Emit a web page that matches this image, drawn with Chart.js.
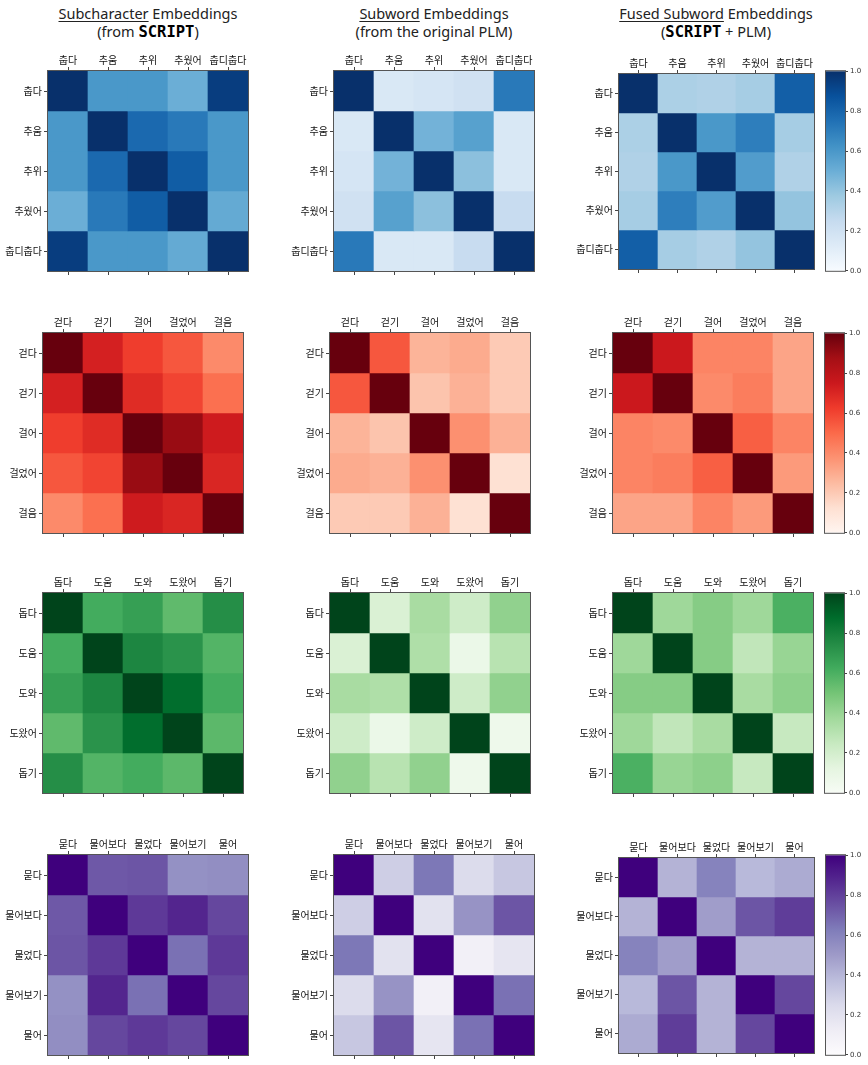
<!DOCTYPE html>
<html lang="ko">
<head>
<meta charset="UTF-8">
<title>Subword embedding similarity</title>
<script src="https://cdn.jsdelivr.net/npm/chart.js"></script>
<style>
    body { margin: 0; background: #fff; }
    #page { position: relative; width: 868px; height: 1065px; overflow: hidden; }
    .panel { position: absolute; }
    .title {
        position: absolute; width: 300px; text-align: center;
        font-family: "Noto Sans", "DejaVu Sans", sans-serif; font-size: 14.5px;
        line-height: 18px; color: #222;
    }
    .title u { text-decoration-thickness: 1px; text-underline-offset: 2px; }
    .title b { font-family: "DejaVu Sans Mono", monospace; font-weight: bold; color: #000; font-size: 15.5px; }
</style>
</head>
<body>
<div id="page">
    <div class="title" style="left:-2px; top:4px;"><u>Subcharacter</u> Embeddings<br>(from <b>SCRIPT</b>)</div>
    <div class="title" style="left:284px; top:4px;"><u>Subword</u> Embeddings<br>(from the original PLM)</div>
    <div class="title" style="left:566px; top:4px;"><u>Fused Subword</u> Embeddings<br>(<b>SCRIPT</b> + PLM)</div>
</div>

<script>
    // word lists (rows and columns of each heatmap)
    const coldWords = ['춥다', '추움', '추위', '추웠어', '춥디춥다'];
    const walkWords = ['걷다', '걷기', '걸어', '걸었어', '걸음'];
    const helpWords = ['돕다', '도움', '도와', '도왔어', '돕기'];
    const askWords = ['묻다', '물어보다', '물었다', '물어보기', '물어'];

    // similarity matrices
    const coldScript = [
        [1.00, 0.60, 0.60, 0.50, 0.95],
        [0.60, 1.00, 0.78, 0.72, 0.60],
        [0.60, 0.78, 1.00, 0.83, 0.60],
        [0.50, 0.72, 0.83, 1.00, 0.52],
        [0.95, 0.60, 0.60, 0.52, 1.00]
    ];
    const coldPlm = [
        [1.00, 0.15, 0.17, 0.20, 0.72],
        [0.15, 1.00, 0.48, 0.56, 0.15],
        [0.17, 0.48, 1.00, 0.42, 0.15],
        [0.20, 0.56, 0.42, 1.00, 0.24],
        [0.72, 0.15, 0.15, 0.24, 1.00]
    ];
    const coldFused = [
        [1.00, 0.33, 0.32, 0.35, 0.82],
        [0.33, 1.00, 0.60, 0.70, 0.35],
        [0.32, 0.60, 1.00, 0.58, 0.32],
        [0.35, 0.70, 0.58, 1.00, 0.40],
        [0.82, 0.35, 0.32, 0.40, 1.00]
    ];
    const walkScript = [
        [1.00, 0.72, 0.62, 0.55, 0.40],
        [0.72, 1.00, 0.68, 0.60, 0.48],
        [0.62, 0.68, 1.00, 0.90, 0.74],
        [0.55, 0.60, 0.90, 1.00, 0.70],
        [0.40, 0.48, 0.74, 0.70, 1.00]
    ];
    const walkPlm = [
        [1.00, 0.55, 0.27, 0.30, 0.20],
        [0.55, 1.00, 0.22, 0.28, 0.20],
        [0.27, 0.22, 1.00, 0.38, 0.28],
        [0.30, 0.28, 0.38, 1.00, 0.12],
        [0.20, 0.20, 0.28, 0.12, 1.00]
    ];
    const walkFused = [
        [1.00, 0.75, 0.42, 0.42, 0.32],
        [0.75, 1.00, 0.40, 0.44, 0.32],
        [0.42, 0.40, 1.00, 0.53, 0.42],
        [0.42, 0.44, 0.53, 1.00, 0.35],
        [0.32, 0.32, 0.42, 0.35, 1.00]
    ];
    const helpScript = [
        [1.00, 0.62, 0.67, 0.55, 0.74],
        [0.62, 1.00, 0.77, 0.72, 0.58],
        [0.67, 0.77, 1.00, 0.87, 0.62],
        [0.55, 0.72, 0.87, 1.00, 0.56],
        [0.74, 0.58, 0.62, 0.56, 1.00]
    ];
    const helpPlm = [
        [1.00, 0.17, 0.35, 0.22, 0.42],
        [0.17, 1.00, 0.33, 0.08, 0.30],
        [0.35, 0.33, 1.00, 0.22, 0.42],
        [0.22, 0.08, 0.22, 1.00, 0.06],
        [0.42, 0.30, 0.42, 0.06, 1.00]
    ];
    const helpFused = [
        [1.00, 0.38, 0.45, 0.38, 0.60],
        [0.38, 1.00, 0.45, 0.27, 0.40],
        [0.45, 0.45, 1.00, 0.35, 0.43],
        [0.38, 0.27, 0.35, 1.00, 0.25],
        [0.60, 0.40, 0.43, 0.25, 1.00]
    ];
    const askScript = [
        [1.00, 0.73, 0.74, 0.54, 0.55],
        [0.73, 1.00, 0.82, 0.88, 0.78],
        [0.74, 0.82, 1.00, 0.66, 0.82],
        [0.54, 0.88, 0.66, 1.00, 0.78],
        [0.55, 0.78, 0.82, 0.78, 1.00]
    ];
    const askPlm = [
        [1.00, 0.30, 0.64, 0.24, 0.33],
        [0.30, 1.00, 0.20, 0.53, 0.74],
        [0.64, 0.20, 1.00, 0.10, 0.18],
        [0.24, 0.53, 0.10, 1.00, 0.66],
        [0.33, 0.74, 0.18, 0.66, 1.00]
    ];
    const askFused = [
        [1.00, 0.41, 0.60, 0.39, 0.44],
        [0.41, 1.00, 0.49, 0.74, 0.81],
        [0.60, 0.49, 1.00, 0.41, 0.41],
        [0.39, 0.74, 0.41, 1.00, 0.78],
        [0.44, 0.81, 0.41, 0.78, 1.00]
    ];

    const cbarTicks = [0, 0.2, 0.4, 0.6, 0.8, 1.0];

    // matplotlib sequential colormaps
    const BLUES = ['#f7fbff', '#deebf7', '#c6dbef', '#9ecae1', '#6baed6', '#4292c6', '#2171b5', '#08519c', '#08306b'];
    const REDS = ['#fff5f0', '#fee0d2', '#fcbba1', '#fc9272', '#fb6a4a', '#ef3b2c', '#cb181d', '#a50f15', '#67000d'];
    const GREENS = ['#f7fcf5', '#e5f5e0', '#c7e9c0', '#a1d99b', '#74c476', '#41ab5d', '#238b45', '#006d2c', '#00441b'];
    const PURPLES = ['#fcfbfd', '#efedf5', '#dadaeb', '#bcbddc', '#9e9ac8', '#807dba', '#6a51a3', '#54278f', '#3f007d'];

    function hexRgb(h) {
        return [parseInt(h.slice(1, 3), 16), parseInt(h.slice(3, 5), 16), parseInt(h.slice(5, 7), 16)];
    }
    function cmap(stops, v) {
        const t = Math.min(1, Math.max(0, v)) * (stops.length - 1);
        const i = Math.min(stops.length - 2, Math.floor(t));
        const f = t - i;
        const a = hexRgb(stops[i]), b = hexRgb(stops[i + 1]);
        const c = a.map((x, k) => Math.round(x + (b[k] - x) * f));
        return `rgb(${c[0]},${c[1]},${c[2]})`;
    }

    const frame = {
        id: 'frame',
        afterDatasetsDraw(chart) {
            const a = chart.chartArea, ctx = chart.ctx;
            ctx.save();
            ctx.strokeStyle = '#555';
            ctx.lineWidth = 1;
            ctx.strokeRect(a.left - 0.5, a.top - 0.5, a.width + 1, a.height + 1);
            ctx.restore();
        }
    };

    const page = document.getElementById('page');
    const tickFont = { family: '"Noto Sans CJK KR", "Noto Sans", sans-serif', size: 10 };

    function makeCanvas(left, top, w, h) {
        const div = document.createElement('div');
        div.className = 'panel';
        div.style.left = left + 'px';
        div.style.top = top + 'px';
        div.style.width = w + 'px';
        div.style.height = h + 'px';
        const c = document.createElement('canvas');
        c.width = w; c.height = h;
        div.appendChild(c);
        page.appendChild(div);
        return c;
    }

    function heatmap(box, words, matrix, stops) {
        const PADL = 60, PADT = 26, PADB = 10, PADR = 4;
        const canvas = makeCanvas(box.x - PADL, box.y - PADT, PADL + box.w + PADR, PADT + box.w + PADB);
        new Chart(canvas, {
            type: 'bar',
            data: {
                labels: words,
                datasets: matrix.map(row => ({
                    data: row.map(() => 1),
                    backgroundColor: row.map(v => cmap(stops, v)),
                    borderWidth: 0,
                    barPercentage: 1,
                    categoryPercentage: 1
                }))
            },
            options: {
                responsive: false,
                animation: false,
                layout: { padding: { right: PADR } },
                plugins: { legend: { display: false }, tooltip: { enabled: false } },
                scales: {
                    x: {
                        position: 'top', stacked: true, offset: true,
                        grid: { drawOnChartArea: false, offset: false, tickLength: 4, color: '#444' },
                        border: { display: false },
                        ticks: { font: tickFont, color: '#111', padding: 1, maxRotation: 0, autoSkip: false },
                        afterFit: s => { s.height = PADT; }
                    },
                    xb: {
                        type: 'category', labels: words, position: 'bottom', offset: true,
                        grid: { drawOnChartArea: false, offset: false, tickLength: 4, color: '#444' },
                        border: { display: false },
                        ticks: { display: false },
                        afterFit: s => { s.height = PADB; }
                    },
                    y: {
                        type: 'linear', min: 0, max: words.length, reverse: true, stacked: true,
                        afterBuildTicks: s => { s.ticks = words.map((_, i) => ({ value: i + 0.5 })); },
                        grid: { drawOnChartArea: false, tickLength: 4, color: '#444' },
                        border: { display: false },
                        ticks: { font: tickFont, color: '#111', padding: 2, callback: (v, i) => words[i] },
                        afterFit: s => { s.width = PADL; }
                    }
                }
            },
            plugins: [frame]
        });
    }

    function colorbar(box, stops) {
        const PADL = 1, PADR = 24, PADT = 6, PADB = 6;
        const canvas = makeCanvas(box.x - PADL, box.y - PADT, PADL + box.w + PADR, PADT + box.h + PADB);
        new Chart(canvas, {
            type: 'bar',
            data: {
                labels: [''],
                datasets: [{
                    data: [[0, 1]],
                    borderWidth: 0,
                    barPercentage: 1,
                    categoryPercentage: 1,
                    backgroundColor: ctx => {
                        const a = ctx.chart.chartArea;
                        if (!a) return stops[0];
                        const g = ctx.chart.ctx.createLinearGradient(0, a.bottom, 0, a.top);
                        stops.forEach((s, i) => g.addColorStop(i / (stops.length - 1), s));
                        return g;
                    }
                }]
            },
            options: {
                responsive: false,
                animation: false,
                layout: { padding: { left: PADL, top: PADT, bottom: PADB } },
                plugins: { legend: { display: false }, tooltip: { enabled: false } },
                scales: {
                    x: { display: false },
                    y: {
                        position: 'right', min: 0, max: 1,
                        afterBuildTicks: s => { s.ticks = cbarTicks.map(v => ({ value: v })); },
                        grid: { drawOnChartArea: false, tickLength: 3, color: '#444' },
                        border: { display: false },
                        ticks: { font: { family: '"DejaVu Sans", sans-serif', size: 7 }, color: '#333', padding: 2,
                                 callback: v => v.toFixed(1) },
                        afterFit: s => { s.width = PADR; }
                    }
                }
            },
            plugins: [frame]
        });
    }

    const rows = [
        { words: coldWords, mats: [coldScript, coldPlm, coldFused], stops: BLUES,
          boxes: [{ x: 48, y: 71, w: 200 }, { x: 334, y: 71, w: 200 }, { x: 619, y: 74, w: 195 }],
          cbar: { x: 826, y: 71, w: 19, h: 200 } },
        { words: walkWords, mats: [walkScript, walkPlm, walkFused], stops: REDS,
          boxes: [{ x: 43, y: 333, w: 200 }, { x: 330, y: 333, w: 200 }, { x: 613, y: 333, w: 200 }],
          cbar: { x: 825, y: 333, w: 19, h: 200 } },
        { words: helpWords, mats: [helpScript, helpPlm, helpFused], stops: GREENS,
          boxes: [{ x: 43, y: 593, w: 200 }, { x: 330, y: 593, w: 200 }, { x: 613, y: 593, w: 200 }],
          cbar: { x: 825, y: 593, w: 19, h: 200 } },
        { words: askWords, mats: [askScript, askPlm, askFused], stops: PURPLES,
          boxes: [{ x: 48, y: 855, w: 200 }, { x: 334, y: 855, w: 200 }, { x: 619, y: 858, w: 195 }],
          cbar: { x: 826, y: 855, w: 19, h: 200 } }
    ];

    rows.forEach(r => {
        r.mats.forEach((m, i) => heatmap(r.boxes[i], r.words, m, r.stops));
        colorbar(r.cbar, r.stops);
    });
</script>
</body>
</html>
